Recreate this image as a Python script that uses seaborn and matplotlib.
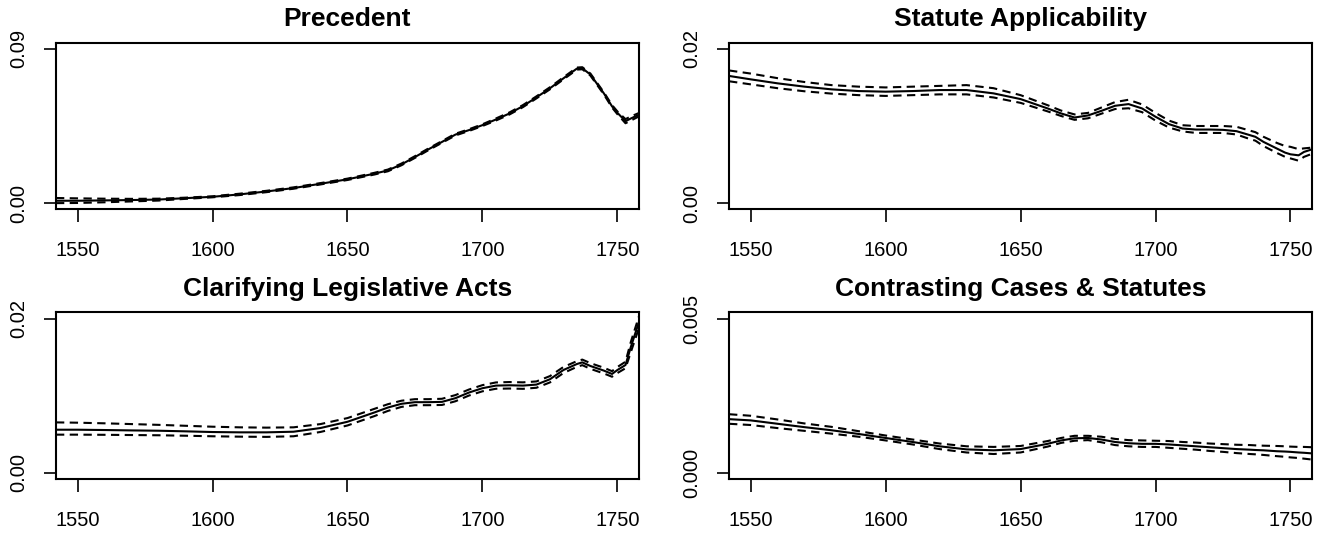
import matplotlib
matplotlib.use("Agg")
import matplotlib.pyplot as plt
import pandas as pd
import seaborn as sns

# anni comuni a tutti i pannelli
YEARS = [1542, 1550, 1560, 1570, 1580, 1590, 1600, 1610, 1620, 1630, 1640, 1650,
         1660, 1665, 1670, 1675, 1680, 1685, 1690, 1695, 1700, 1705, 1710, 1715,
         1720, 1725, 1730, 1735, 1737, 1740, 1745, 1748, 1750, 1753, 1755, 1758]

# Precedent
PRECEDENT_FIT = [0.0014, 0.0014, 0.0016, 0.0018, 0.0021, 0.0029, 0.0037, 0.0051, 0.0068, 0.0088,
                 0.0113, 0.0139, 0.0172, 0.0191, 0.0226, 0.0269, 0.0314, 0.0357, 0.0400, 0.0426,
                 0.0455, 0.0488, 0.0523, 0.0566, 0.0617, 0.0670, 0.0728, 0.0785, 0.0787, 0.0750,
                 0.0640, 0.0565, 0.0527, 0.0478, 0.0494, 0.0516]
PRECEDENT_HI = [0.0030, 0.0028, 0.0026, 0.0025, 0.0026, 0.0032, 0.0040, 0.0055, 0.0072, 0.0092,
                0.0117, 0.0143, 0.0177, 0.0196, 0.0231, 0.0274, 0.0319, 0.0362, 0.0405, 0.0431,
                0.0460, 0.0494, 0.0529, 0.0572, 0.0623, 0.0676, 0.0734, 0.0791, 0.0793, 0.0756,
                0.0646, 0.0572, 0.0535, 0.0490, 0.0506, 0.0526]
PRECEDENT_LO = [0.0000, 0.0001, 0.0005, 0.0010, 0.0015, 0.0025, 0.0034, 0.0047, 0.0064, 0.0084,
                0.0109, 0.0135, 0.0167, 0.0186, 0.0221, 0.0264, 0.0309, 0.0352, 0.0395, 0.0421,
                0.0450, 0.0482, 0.0517, 0.0560, 0.0611, 0.0664, 0.0722, 0.0779, 0.0781, 0.0744,
                0.0634, 0.0558, 0.0519, 0.0466, 0.0482, 0.0506]

# Statute Applicability
STATUTE_FIT = [0.01649, 0.01605, 0.01553, 0.01510, 0.01475, 0.01453, 0.01445, 0.01453, 0.01466, 0.01466,
               0.01423, 0.01349, 0.01228, 0.01163, 0.01110, 0.01137, 0.01197, 0.01262, 0.01284, 0.01228,
               0.01120, 0.01024, 0.00967, 0.00954, 0.00954, 0.00950, 0.00933, 0.00881, 0.00860, 0.00794,
               0.00707, 0.00655, 0.00633, 0.00620, 0.00664, 0.00698]
STATUTE_HI = [0.0172, 0.0168, 0.0162, 0.0157, 0.0153, 0.0151, 0.0150, 0.0151, 0.0152, 0.0153,
              0.0149, 0.0140, 0.0127, 0.0120, 0.0115, 0.0117, 0.0124, 0.0131, 0.0134, 0.0128,
              0.0117, 0.0107, 0.0101, 0.0100, 0.0100, 0.0100, 0.0099, 0.0094, 0.0092, 0.0086,
              0.0078, 0.0074, 0.0073, 0.0070, 0.0071, 0.0072]
STATUTE_LO = [0.0158, 0.0154, 0.0149, 0.0145, 0.0142, 0.0140, 0.0139, 0.0140, 0.0141, 0.0141,
              0.0137, 0.0130, 0.0119, 0.0113, 0.0108, 0.0110, 0.0116, 0.0122, 0.0123, 0.0118,
              0.0107, 0.0098, 0.0093, 0.0091, 0.0091, 0.0091, 0.0089, 0.0083, 0.0081, 0.0074,
              0.0065, 0.0060, 0.0058, 0.0055, 0.0060, 0.0064]

# Clarifying Legislative Acts
CLARIFY_FIT = [0.00559, 0.00559, 0.00555, 0.00550, 0.00546, 0.00538, 0.00529, 0.00525, 0.00525, 0.00533,
               0.00581, 0.00662, 0.00783, 0.00847, 0.00895, 0.00916, 0.00916, 0.00920, 0.00968, 0.01041,
               0.01097, 0.01131, 0.01135, 0.01131, 0.01144, 0.01213, 0.01333, 0.01411, 0.01432, 0.01385,
               0.01325, 0.01282, 0.01333, 0.01398, 0.01634, 0.01957]
CLARIFY_HI = [0.00654, 0.00650, 0.00642, 0.00632, 0.00622, 0.00610, 0.00598, 0.00590, 0.00586, 0.00590,
              0.00632, 0.00710, 0.00830, 0.00890, 0.00935, 0.00955, 0.00955, 0.00960, 0.01008, 0.01080,
              0.01137, 0.01172, 0.01177, 0.01173, 0.01185, 0.01254, 0.01372, 0.01448, 0.01468, 0.01422,
              0.01362, 0.01318, 0.01372, 0.01440, 0.01700, 0.02030]
CLARIFY_LO = [0.00495, 0.00495, 0.00493, 0.00490, 0.00487, 0.00481, 0.00474, 0.00469, 0.00466, 0.00474,
              0.00530, 0.00614, 0.00736, 0.00803, 0.00855, 0.00877, 0.00877, 0.00880, 0.00928, 0.01002,
              0.01057, 0.01090, 0.01093, 0.01089, 0.01103, 0.01172, 0.01294, 0.01374, 0.01396, 0.01348,
              0.01288, 0.01246, 0.01294, 0.01356, 0.01568, 0.01880]

# Contrasting Cases & Statutes
CONTRAST_FIT = [0.00174, 0.00170, 0.00159, 0.00148, 0.00138, 0.00126, 0.00113, 0.00100, 0.00086, 0.00076,
                0.00073, 0.00077, 0.00094, 0.00105, 0.00112, 0.00113, 0.00108, 0.00100, 0.00096, 0.00094,
                0.00094, 0.00092, 0.00089, 0.00086, 0.00083, 0.00080, 0.00077, 0.00075, 0.00074, 0.00073,
                0.00070, 0.00069, 0.00068, 0.00066, 0.00065, 0.00063]
CONTRAST_HI = [0.00190, 0.00185, 0.00173, 0.00160, 0.00149, 0.00135, 0.00121, 0.00108, 0.00095, 0.00086,
               0.00084, 0.00087, 0.00103, 0.00113, 0.00120, 0.00120, 0.00117, 0.00110, 0.00106, 0.00105,
               0.00104, 0.00103, 0.00100, 0.00098, 0.00095, 0.00093, 0.00091, 0.00090, 0.00089, 0.00088,
               0.00087, 0.00086, 0.00085, 0.00084, 0.00084, 0.00083]
CONTRAST_LO = [0.00159, 0.00155, 0.00145, 0.00136, 0.00127, 0.00117, 0.00105, 0.00092, 0.00077, 0.00066,
               0.00061, 0.00066, 0.00085, 0.00097, 0.00104, 0.00106, 0.00099, 0.00090, 0.00086, 0.00084,
               0.00084, 0.00081, 0.00078, 0.00075, 0.00071, 0.00068, 0.00064, 0.00061, 0.00060, 0.00058,
               0.00054, 0.00052, 0.00050, 0.00048, 0.00046, 0.00043]

X_TICKS = [1550, 1600, 1650, 1700, 1750]

# titolo, serie, tick y, etichette y, posizione assi
PANELS = [
    ("Precedent", PRECEDENT_FIT, PRECEDENT_LO, PRECEDENT_HI, [0, 0.09], ["0.00", "0.09"],
     [0.0422, 0.6073, 0.4397, 0.3126]),
    ("Statute Applicability", STATUTE_FIT, STATUTE_LO, STATUTE_HI, [0, 0.02], ["0.00", "0.02"],
     [0.5498, 0.6073, 0.4397, 0.3126]),
    ("Clarifying Legislative Acts", CLARIFY_FIT, CLARIFY_LO, CLARIFY_HI, [0, 0.02], ["0.00", "0.02"],
     [0.0422, 0.1013, 0.4397, 0.3126]),
    ("Contrasting Cases & Statutes", CONTRAST_FIT, CONTRAST_LO, CONTRAST_HI, [0, 0.005], ["0.000", "0.005"],
     [0.5498, 0.1013, 0.4397, 0.3126]),
]

sns.set_style("ticks")
plt.rcParams["font.family"] = ["Liberation Sans", "DejaVu Sans"]
plt.rcParams["text.color"] = "black"
plt.rcParams["xtick.color"] = "black"
plt.rcParams["ytick.color"] = "black"
plt.rcParams["axes.edgecolor"] = "black"

fig = plt.figure(figsize=(13.26, 5.33), dpi=100)

for title, fit, lo, hi, yticks, ylabels, pos in PANELS:
    ax = fig.add_axes(pos)
    df = pd.concat([
        pd.DataFrame({"year": YEARS, "value": fit, "band": "fit"}),
        pd.DataFrame({"year": YEARS, "value": lo, "band": "lower"}),
        pd.DataFrame({"year": YEARS, "value": hi, "band": "upper"}),
    ])
    sns.lineplot(data=df, x="year", y="value", style="band",
                 dashes={"fit": "", "lower": (4.0, 2.6), "upper": (4.0, 2.6)},
                 color="black", linewidth=1.5, legend=False, ax=ax)

    top = yticks[-1]
    ax.set_xlim(1542, 1758)
    ax.set_ylim(-0.04 * top, 1.04 * top)
    ax.set_xticks(X_TICKS)
    ax.set_xticklabels([str(t) for t in X_TICKS], fontsize=14.5)
    ax.set_yticks(yticks)
    ax.set_yticklabels(ylabels, fontsize=14.5, rotation=90, va="center")
    ax.tick_params(axis="x", length=9, width=1.2, pad=14, direction="out", colors="black")
    ax.tick_params(axis="y", length=9, width=1.2, pad=11, direction="out", colors="black")
    for side in ["top", "right", "bottom", "left"]:
        ax.spines[side].set_visible(True)
        ax.spines[side].set_linewidth(1.5)
        ax.spines[side].set_color("black")
    ax.set_xlabel("")
    ax.set_ylabel("")
    ax.set_title(title, fontsize=19, fontweight="bold", pad=12, color="black")

fig.savefig("out.png", dpi=100)
